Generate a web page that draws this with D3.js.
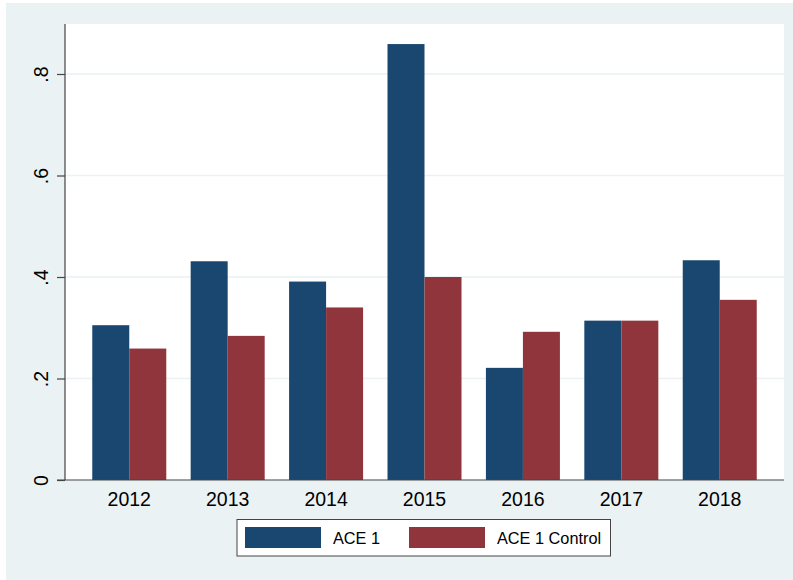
<!DOCTYPE html>
<html><head><meta charset="utf-8">
<script src="https://cdn.jsdelivr.net/npm/d3@7"></script>
<style>body{margin:0;background:#fff}svg{display:block}text{font-family:"Liberation Sans",Arial,sans-serif;fill:#000}</style>
</head><body><svg id="c" width="793" height="580"></svg>
<script>
const years = ["2012","2013","2014","2015","2016","2017","2018"];
const ace1 = [0.305,0.431,0.391,0.859,0.221,0.314,0.433];
const ace1Control = [0.259,0.284,0.340,0.400,0.292,0.314,0.355];
const seriesNames = ["ACE 1","ACE 1 Control"];
const seriesColors = ["#1a476f","#90353b"];
const yTicks = [0,0.2,0.4,0.6,0.8];
const yTickLabels = ["0",".2",".4",".6",".8"];

const svg = d3.select("#c");
svg.append("rect").attr("x",6).attr("y",3).attr("width",787).attr("height",577).attr("fill","#eaf2f3");
const L=65,R=784,T=24,B=480;
svg.append("rect").attr("x",L).attr("y",T).attr("width",R-L).attr("height",B-T).attr("fill","#fff");

const y = d3.scaleLinear().domain([0,0.8]).range([B,74]);
const x = d3.scaleBand().domain(years).range([L,R]).paddingInner(0.248).paddingOuter(0.277);
const xs = d3.scaleBand().domain(seriesNames).range([0,x.bandwidth()]);

// gridlines
svg.append("g").selectAll("line").data(yTicks.slice(1)).join("line")
  .attr("x1",L).attr("x2",R).attr("y1",d=>y(d)).attr("y2",d=>y(d))
  .attr("stroke","#eaf2f3").attr("stroke-width",1.3);

// bars
const series = [ace1, ace1Control];
series.forEach((vals,si)=>{
  svg.append("g").selectAll("rect").data(vals).join("rect")
    .attr("x",(d,i)=>x(years[i])+xs(seriesNames[si]))
    .attr("width",xs.bandwidth())
    .attr("y",d=>y(d)).attr("height",d=>y(0)-y(d))
    .attr("fill",seriesColors[si]);
});

// y axis
const yAxis = d3.axisLeft(y).tickValues(yTicks).tickFormat((d,i)=>yTickLabels[i]).tickSize(8).tickPadding(0);
const gy = svg.append("g").attr("transform",`translate(${L},0)`).call(yAxis);
gy.select(".domain").remove();
gy.selectAll(".tick line").attr("stroke","#444").attr("stroke-width",1.2);
gy.selectAll(".tick text").remove();
gy.selectAll(".tick").append("text")
  .attr("transform","translate(-17,0) rotate(-90)")
  .attr("text-anchor","middle").attr("dy",0)
  .style("font-size","19.5px").style("fill","#000")
  .text((d,i)=>yTickLabels[i]);
svg.append("line").attr("x1",L).attr("x2",L).attr("y1",T).attr("y2",B).attr("stroke","#444").attr("stroke-width",1.2);

// x axis
const xAxis = d3.axisBottom(x).tickSize(0).tickPadding(0);
const gx = svg.append("g").attr("transform",`translate(0,${B})`).call(xAxis);
gx.select(".domain").remove();
gx.selectAll(".tick text").attr("dy",0).attr("y",26).style("font-size","19.5px").style("font-family","Liberation Sans").style("fill","#000");
svg.append("line").attr("x1",57).attr("x2",R).attr("y1",B).attr("y2",B).attr("stroke","#444").attr("stroke-width",1.2);

// legend
const lg = svg.append("g");
lg.append("rect").attr("x",237).attr("y",519.5).attr("width",373.5).attr("height",36.5)
  .attr("fill","#fff").attr("stroke","#444").attr("stroke-width",1);
const legX = [245,409];
seriesNames.forEach((n,i)=>{
  lg.append("rect").attr("x",legX[i]).attr("y",527).attr("width",76).attr("height",21).attr("fill",seriesColors[i]);
  lg.append("text").attr("x",legX[i]+88).attr("y",544).style("font-size","16.3px").text(n);
});
</script></body></html>
